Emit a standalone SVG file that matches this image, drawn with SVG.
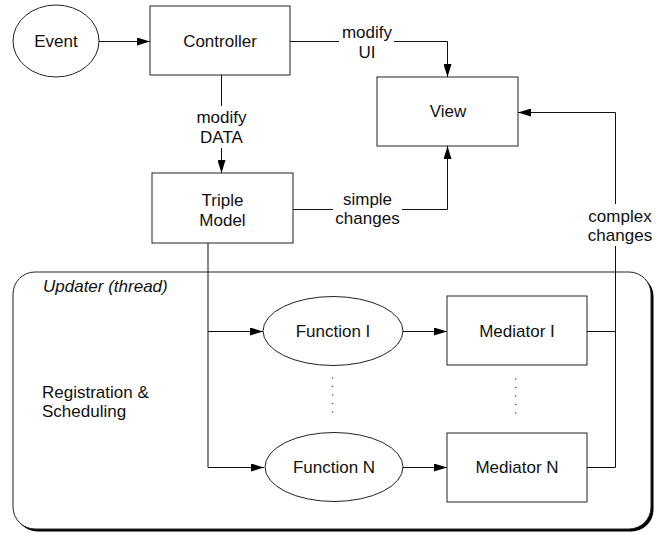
<svg xmlns="http://www.w3.org/2000/svg" width="656" height="533" viewBox="0 0 656 533">
  <style>
    text { font-family: "Liberation Sans", Arial, sans-serif; font-size: 17px; fill: #111; }
    .c { text-anchor: middle; }
    .it { font-style: italic; }
    .node { fill: #fff; stroke: #222; stroke-width: 1; }
    .wire { fill: none; stroke: #111; stroke-width: 1; }
    .arr { marker-end: url(#head); }
    .dot { fill: #555; }
  </style>
  <defs>
    <marker id="head" viewBox="0 0 13 8" refX="13" refY="4" markerWidth="13" markerHeight="8" markerUnits="userSpaceOnUse" orient="auto">
      <path d="M0,0 L13,4 L0,8 z" fill="#000"/>
    </marker>
  </defs>

  <rect width="656" height="533" fill="#fff"/>

  <!-- updater thread container with drop shadow -->
  <g id="updater">
    <rect x="15.5" y="274.5" width="638" height="257" rx="22" ry="22" fill="#000"/>
    <rect x="13" y="272" width="638" height="257" rx="22" ry="22" class="node"/>
    <text x="43" y="292" class="it">Updater (thread)</text>
    <text x="42" y="397.5">Registration &amp;</text>
    <text x="42" y="417">Scheduling</text>
  </g>

  <g id="event">
    <ellipse cx="56" cy="41" rx="43" ry="36" class="node"/>
    <text x="56" y="46.5" class="c">Event</text>
  </g>

  <g id="controller">
    <rect x="150" y="6" width="140" height="69" class="node"/>
    <text x="220" y="46.5" class="c">Controller</text>
  </g>

  <g id="view">
    <rect x="377" y="77" width="141" height="69" class="node"/>
    <text x="448" y="117" class="c">View</text>
  </g>

  <g id="triple-model">
    <rect x="152" y="173" width="141" height="70" class="node"/>
    <text x="222.5" y="206" class="c">Triple</text>
    <text x="222.5" y="226" class="c">Model</text>
  </g>

  <g id="function-1">
    <ellipse cx="333" cy="331" rx="70" ry="34.5" class="node"/>
    <text x="333" y="337" class="c">Function I</text>
  </g>

  <g id="function-n">
    <ellipse cx="334" cy="467" rx="69" ry="34.5" class="node"/>
    <text x="334" y="473" class="c">Function N</text>
  </g>

  <g id="mediator-1">
    <rect x="447" y="296" width="140" height="69" class="node"/>
    <text x="517" y="337" class="c">Mediator I</text>
  </g>

  <g id="mediator-n">
    <rect x="447" y="433" width="140" height="69" class="node"/>
    <text x="517" y="473" class="c">Mediator N</text>
  </g>

  <!-- ellipsis dots between first and last rows -->
  <g id="ellipsis">
    <circle cx="332.5" cy="378" r="0.8" class="dot"/>
    <circle cx="332.5" cy="386.5" r="0.8" class="dot"/>
    <circle cx="332.5" cy="395" r="0.8" class="dot"/>
    <circle cx="332.5" cy="403.5" r="0.8" class="dot"/>
    <circle cx="332.5" cy="412" r="0.8" class="dot"/>
    <circle cx="515.7" cy="379" r="0.8" class="dot"/>
    <circle cx="515.7" cy="387.5" r="0.8" class="dot"/>
    <circle cx="515.7" cy="396" r="0.8" class="dot"/>
    <circle cx="515.7" cy="404.5" r="0.8" class="dot"/>
    <circle cx="515.7" cy="413" r="0.8" class="dot"/>
  </g>

  <g id="connectors">
    <!-- Event -> Controller -->
    <path d="M99,41.5 H150" class="wire arr"/>
    <!-- Controller -> View (modify UI) -->
    <path d="M290,41.5 H339" class="wire"/>
    <path d="M394,41.5 H447.5 V77" class="wire arr"/>
    <text x="367" y="38" class="c">modify</text>
    <text x="367" y="57.5" class="c">UI</text>
    <!-- Controller -> Triple Model (modify DATA) -->
    <path d="M221.5,75 V106" class="wire"/>
    <path d="M221.5,148 V173" class="wire arr"/>
    <text x="221.5" y="123" class="c">modify</text>
    <text x="221.5" y="142.5" class="c">DATA</text>
    <!-- Triple Model -> View (simple changes) -->
    <path d="M293,209.5 H333" class="wire"/>
    <path d="M402,209.5 H447.5 V146" class="wire arr"/>
    <text x="367.5" y="204.5" class="c">simple</text>
    <text x="367.5" y="224" class="c">changes</text>
    <!-- Triple Model -> functions -->
    <path d="M208,243 V467.5 H264" class="wire arr"/>
    <path d="M208,331.5 H263" class="wire arr"/>
    <!-- functions -> mediators -->
    <path d="M403,331.5 H447" class="wire arr"/>
    <path d="M403,467.5 H447" class="wire arr"/>
    <!-- mediators -> View (complex changes) -->
    <path d="M587,467.5 H615.5 V331.5 H587" class="wire"/>
    <path d="M615.5,331.5 V246" class="wire"/>
    <path d="M615.5,204 V112.5 H518" class="wire arr"/>
    <text x="620" y="221.5" class="c">complex</text>
    <text x="620" y="241" class="c">changes</text>
  </g>
</svg>
